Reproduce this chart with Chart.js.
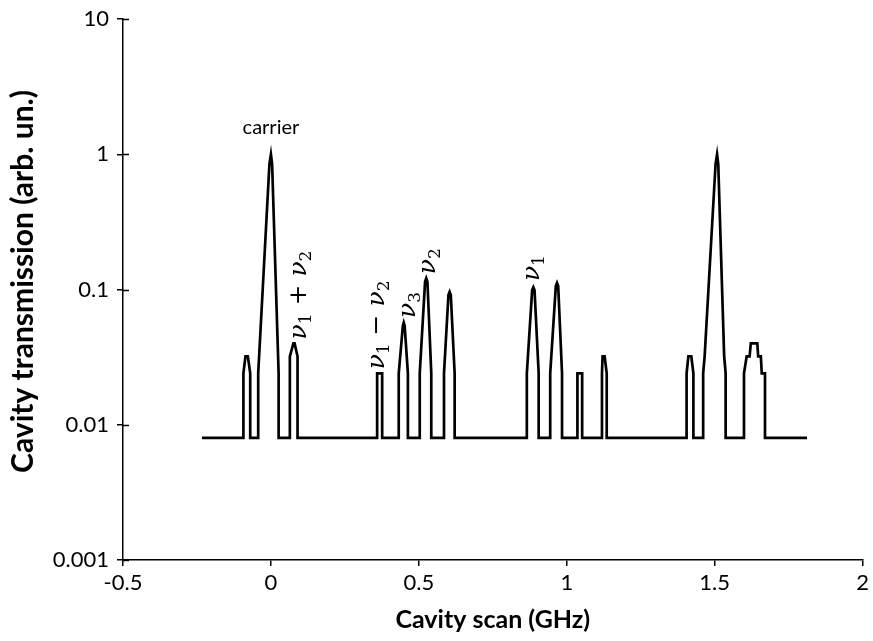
<!DOCTYPE html>
<html><head><meta charset="utf-8">
<script src="https://cdn.jsdelivr.net/npm/chart.js@4/dist/chart.umd.min.js"></script>
<style>html,body{margin:0;padding:0;background:#fff}#wrap{width:873px;height:641px;position:relative}</style>
</head><body><div id="wrap"><canvas id="c"></canvas></div>
<script>
// ---- data ----
const scanGHz = [
  -0.233,
  -0.093, -0.093, -0.086, -0.078, -0.070, -0.070,
  -0.043, -0.043, -0.005, 0.000, 0.004, 0.026, 0.026,
  0.064, 0.064, 0.076, 0.080, 0.090, 0.090,
  0.359, 0.359, 0.376, 0.376,
  0.432, 0.432, 0.446, 0.449, 0.452, 0.463, 0.463,
  0.503, 0.503, 0.521, 0.525, 0.529, 0.542, 0.542,
  0.585, 0.585, 0.600, 0.604, 0.608, 0.621, 0.621,
  0.865, 0.865, 0.883, 0.887, 0.891, 0.905, 0.905,
  0.944, 0.944, 0.963, 0.967, 0.971, 0.984, 0.984,
  1.036, 1.036, 1.052, 1.052,
  1.119, 1.119, 1.121, 1.128, 1.135, 1.135,
  1.405, 1.405, 1.411, 1.421, 1.428, 1.428,
  1.461, 1.461, 1.466, 1.503, 1.508, 1.512, 1.532, 1.537, 1.537,
  1.599, 1.599, 1.608, 1.618, 1.622, 1.644, 1.647, 1.656, 1.659, 1.670, 1.670,
  1.812
];
const transmission = [
  0.008,
  0.008, 0.024, 0.032, 0.032, 0.024, 0.008,
  0.008, 0.024, 0.85, 1.0, 0.85, 0.024, 0.008,
  0.008, 0.032, 0.040, 0.040, 0.032, 0.008,
  0.008, 0.024, 0.024, 0.008,
  0.008, 0.024, 0.054, 0.057, 0.054, 0.024, 0.008,
  0.008, 0.024, 0.114, 0.121, 0.114, 0.024, 0.008,
  0.008, 0.024, 0.091, 0.096, 0.091, 0.024, 0.008,
  0.008, 0.024, 0.099, 0.104, 0.099, 0.024, 0.008,
  0.008, 0.024, 0.106, 0.112, 0.106, 0.024, 0.008,
  0.008, 0.024, 0.024, 0.008,
  0.008, 0.024, 0.032, 0.032, 0.024, 0.008,
  0.008, 0.024, 0.032, 0.032, 0.024, 0.008,
  0.008, 0.024, 0.032, 0.85, 1.0, 0.85, 0.032, 0.024, 0.008,
  0.008, 0.024, 0.032, 0.032, 0.040, 0.040, 0.032, 0.032, 0.024, 0.024, 0.008,
  0.008
];
const xTicks = [-0.5, 0, 0.5, 1, 1.5, 2];
const xTickLabels = ['-0.5', '0', '0.5', '1', '1.5', '2'];
const yTicks = [0.001, 0.01, 0.1, 1, 10];
const yTickLabels = ['0.001', '0.01', '0.1', '1', '10'];
const xTitle = 'Cavity scan (GHz)';
const yTitle = 'Cavity transmission (arb. un.)';
// peak labels: text runs [text, isSubscript], anchor in data coords
const peakLabelText = [
  [['carrier', 0]],
  [['ν', 0], ['1', 1], [' + ', 0], ['ν', 0], ['2', 1]],
  [['ν', 0], ['1', 1], [' − ', 0], ['ν', 0], ['2', 1]],
  [['ν', 0], ['3', 1]],
  [['ν', 0], ['2', 1]],
  [['ν', 0], ['1', 1]]
];
const peakLabelX = [0, 0.098, 0.361, 0.466, 0.533, 0.887];
const peakLabelY = [1.58, 0.091, 0.0547, 0.0769, 0.162, 0.144];
const peakLabelRotated = [false, true, true, true, true, true];

const points = scanGHz.map((x, i) => ({x: x, y: transmission[i]}));

const labelPlugin = {
  id: 'peakLabels',
  afterDatasetsDraw(chart) {
    const ctx = chart.ctx;
    const xs = chart.scales.x, ys = chart.scales.y;
    // inner part of y ticks (cross ticks)
    ctx.save();
    ctx.strokeStyle = '#000';
    ctx.lineWidth = 1.5;
    yTicks.forEach(v => {
      const py = Math.round(ys.getPixelForValue(v)) + 0.5;
      ctx.beginPath();
      ctx.moveTo(xs.left, py);
      ctx.lineTo(xs.left + 6, py);
      ctx.stroke();
    });
    // y axis title
    ctx.save();
    ctx.translate(23, (ys.top + ys.bottom) / 2 - 8);
    ctx.rotate(-Math.PI / 2);
    ctx.font = 'bold 30px Lato';
    ctx.textAlign = 'center';
    ctx.textBaseline = 'middle';
    ctx.fillStyle = '#000';
    ctx.fillText(yTitle, 0, 0);
    ctx.restore();
    ctx.restore();

    peakLabelText.forEach((runs, i) => {
      const cx = xs.getPixelForValue(peakLabelX[i]);
      const cy = ys.getPixelForValue(peakLabelY[i]);
      ctx.save();
      ctx.fillStyle = '#000';
      ctx.translate(cx, cy);
      if (peakLabelRotated[i]) ctx.rotate(-Math.PI / 2);
      ctx.textBaseline = 'alphabetic';
      ctx.textAlign = 'left';
      const isText = !peakLabelRotated[i];
      const mainFont = isText ? '20px Lato' : 'italic 25px "DejaVu Serif"';
      const subFont = '17px "DejaVu Serif"';
      let w = 0;
      runs.forEach(r => { ctx.font = r[1] ? subFont : mainFont; w += ctx.measureText(r[0]).width; });
      let x = -w / 2;
      const base = isText ? 7 : 6;
      runs.forEach(r => {
        ctx.font = r[1] ? subFont : mainFont;
        ctx.fillText(r[0], x, r[1] ? base + 5 : base);
        x += ctx.measureText(r[0]).width;
      });
      ctx.restore();
    });
  }
};

new Chart(document.getElementById('c'), {
  type: 'line',
  data: {
    datasets: [{
      data: points,
      borderColor: '#000',
      borderWidth: 2.7,
      pointRadius: 0,
      tension: 0,
      fill: false
    }]
  },
  options: {
    responsive: true,
    maintainAspectRatio: false,
    animation: false,
    events: [],
    layout: {padding: {left: 0, right: 9, top: 18, bottom: 0}},
    plugins: {legend: {display: false}, tooltip: {enabled: false}},
    scales: {
      x: {
        type: 'linear',
        min: -0.5, max: 2,
        afterBuildTicks: s => { s.ticks = xTicks.map(v => ({value: v})); },
        afterFit: s => { s.height = 81; },
        border: {display: true, color: '#000', width: 1.5},
        grid: {display: true, drawOnChartArea: false, drawTicks: true, tickLength: 6, color: '#000', lineWidth: 1.5},
        ticks: {
          color: '#000', font: {family: 'Lato', size: 22}, padding: 4, maxRotation: 0,
          callback: (v) => { const k = xTicks.indexOf(v); return k >= 0 ? xTickLabels[k] : ''; }
        },
        title: {display: true, text: xTitle, color: '#000', font: {family: 'Lato', size: 25, weight: 'bold'}, padding: {top: 0, bottom: 6}}
      },
      y: {
        type: 'logarithmic',
        min: 0.001, max: 10,
        afterBuildTicks: s => { s.ticks = yTicks.map(v => ({value: v})); },
        afterFit: s => { s.width = 123; },
        border: {display: true, color: '#000', width: 1.5},
        grid: {display: true, drawOnChartArea: false, drawTicks: true, tickLength: 6, color: '#000', lineWidth: 1.5},
        ticks: {
          color: '#000', font: {family: 'Lato', size: 22, lineHeight: 1}, padding: 8,
          callback: (v) => { const k = yTicks.findIndex(t => Math.abs(t - v) / t < 1e-6); return k >= 0 ? yTickLabels[k] : ''; }
        },
        title: {display: false}
      }
    }
  },
  plugins: [labelPlugin]
});
</script>
</body></html>
